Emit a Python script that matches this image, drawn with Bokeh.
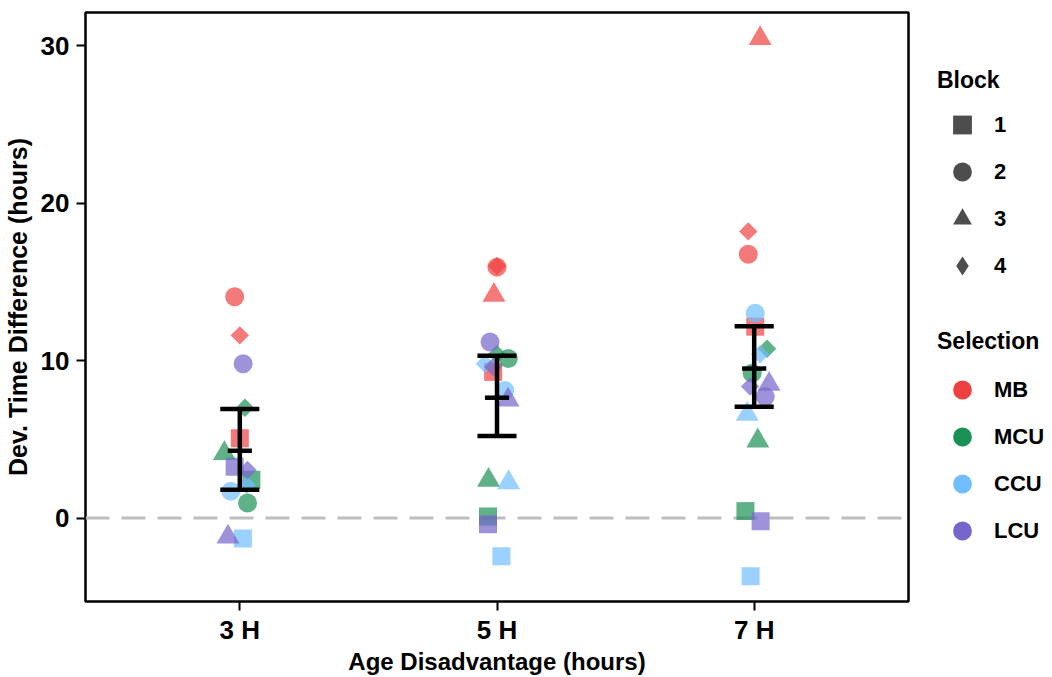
import math
from bokeh.plotting import figure
from bokeh.models import ColumnDataSource, Range1d, FixedTicker, Span, Legend, LegendItem, Spacer
from bokeh.layouts import row, column
from bokeh.embed import file_html
from bokeh.resources import INLINE

# ---------------- data ----------------
ages = ["3 H", "5 H", "7 H"]
selections = ["MB", "MCU", "CCU", "LCU"]
blocks = ["1", "2", "3", "4"]

# 3 H (points visible in the picture)
age3_sel = ["MB", "MB", "MB", "MCU", "MCU", "MCU", "MCU", "CCU", "CCU", "CCU", "LCU", "LCU", "LCU", "LCU"]
age3_block = ["1", "2", "4", "1", "2", "3", "4", "1", "2", "4", "1", "2", "3", "4"]
age3_value = [5.06, 14.05, 11.6, 2.43, 0.95, 4.1, 7.0, -1.3, 1.7, 2.1, 3.25, 9.8, -1.2, 3.05]
age3_jitter = [0.0, -0.02, 0.0, 0.045, 0.03, -0.06, 0.02, 0.012, -0.035, 0.027, -0.02, 0.013, -0.046, 0.03]

# 5 H
age5_sel = ["MB"] * 4 + ["MCU"] * 4 + ["CCU"] * 4 + ["LCU"] * 4
age5_block = blocks * 4
age5_value = [9.28, 15.93, 14.15, 16.0, 0.1, 10.13, 2.4, 10.4, -2.43, 8.1, 2.25, 9.8, -0.4, 11.18, 7.5, 9.6]
age5_jitter = [-0.015, 0.0, -0.012, 0.0, -0.035, 0.044, -0.033, 0.0, 0.017, 0.03, 0.045, -0.047, -0.035, -0.027, 0.043, -0.015]

# 7 H
age7_sel = ["MB"] * 4 + ["MCU"] * 4 + ["CCU"] * 4 + ["LCU"] * 4
age7_block = blocks * 4
age7_value = [12.15, 16.75, 30.45, 18.2, 0.44, 9.2, 4.9, 10.75, -3.7, 13.0, 6.6, 10.4, -0.2, 7.7, 8.5, 8.35]
age7_jitter = [0.004, -0.023, 0.023, -0.023, -0.034, -0.008, 0.014, 0.05, -0.014, 0.004, -0.027, 0.023, 0.025, 0.043, 0.058, -0.016]

# summary (mean with interval) per age
bar_mean = [4.28, 7.64, 9.49]
bar_low = [1.79, 5.21, 7.07]
bar_high = [6.92, 10.31, 12.17]

y_ticks = [0, 10, 20, 30]

# ---------------- styles ----------------
sel_color = {"MB": "#EF4040", "MCU": "#1B9156", "CCU": "#70BEFF", "LCU": "#7565CC"}
block_marker = {"1": "square", "2": "circle", "3": "triangle", "4": "square"}
block_angle = {"1": 0.0, "2": 0.0, "3": 0.0, "4": math.pi / 4}
block_size = {"1": 18, "2": 19, "3": 23, "4": 13}
legend_marker = {"1": "square", "2": "circle", "3": "triangle", "4": "diamond"}
FONT = "Liberation Sans"

# ---------------- build point table ----------------
xs, ys, cols, mks, szs, angs = [], [], [], [], [], []
for age, sels, blks, vals, jits in [
    ("3 H", age3_sel, age3_block, age3_value, age3_jitter),
    ("5 H", age5_sel, age5_block, age5_value, age5_jitter),
    ("7 H", age7_sel, age7_block, age7_value, age7_jitter),
]:
    base = ages.index(age) + 1
    for s, b, v, j in zip(sels, blks, vals, jits):
        xs.append(base + j)
        ys.append(v)
        cols.append(sel_color[s])
        mks.append(block_marker[b])
        szs.append(block_size[b])
        angs.append(block_angle[b])

src = ColumnDataSource(dict(x=xs, y=ys, color=cols, marker=mks, size=szs, angle=angs))

# ---------------- main figure ----------------
MAIN_W, H = 910, 677
LEG_W = 1052 - MAIN_W

p = figure(width=MAIN_W, height=H,
           x_range=Range1d(0.4, 3.6), y_range=Range1d(-5.3, 32.1),
           output_backend="svg", toolbar_location=None,
           min_border_left=85, min_border_right=2, min_border_top=12, min_border_bottom=74)
p.xgrid.visible = False
p.ygrid.visible = False
p.background_fill_color = "white"
p.border_fill_color = "white"
p.outline_line_color = "black"
p.outline_line_width = 2.5
p.outline_line_alpha = 1.0

p.add_layout(Span(location=0, dimension="width", line_color="#BEBEBE", line_width=3,
                  line_dash="24 12", level="underlay"))

p.scatter(x="x", y="y", source=src, marker="marker", size="size", angle="angle",
          fill_color="color", fill_alpha=0.7, line_color=None)

bx = [ages.index(a) + 1 for a in ages]
cap_half = 0.076
mean_half = 0.047
p.segment(x0=bx, y0=bar_low, x1=bx, y1=bar_high, line_color="black", line_width=4.5)
p.segment(x0=[x - cap_half for x in bx], y0=bar_high, x1=[x + cap_half for x in bx], y1=bar_high,
          line_color="black", line_width=4.5)
p.segment(x0=[x - cap_half for x in bx], y0=bar_low, x1=[x + cap_half for x in bx], y1=bar_low,
          line_color="black", line_width=4.5)
p.segment(x0=[x - mean_half for x in bx], y0=bar_mean, x1=[x + mean_half for x in bx], y1=bar_mean,
          line_color="black", line_width=4.5)

p.xaxis.ticker = FixedTicker(ticks=bx)
p.xaxis.major_label_overrides = {i + 1: a for i, a in enumerate(ages)}
p.yaxis.ticker = FixedTicker(ticks=y_ticks)
p.xaxis.axis_label = "Age Disadvantage (hours)"
p.yaxis.axis_label = "Dev. Time Difference (hours)"

for ax in (p.xaxis[0], p.yaxis[0]):
    ax.axis_line_color = None
    ax.major_tick_line_color = "black"
    ax.major_tick_line_width = 2
    ax.major_tick_out = 9
    ax.major_tick_in = 0
    ax.minor_tick_out = 0
    ax.minor_tick_in = 0
    ax.major_label_text_font = FONT
    ax.major_label_text_font_style = "bold"
    ax.major_label_text_color = "black"
    ax.axis_label_text_font = FONT
    ax.axis_label_text_font_style = "bold"
    ax.axis_label_text_color = "black"

p.xaxis.major_label_text_font_size = "26px"
p.yaxis.major_label_text_font_size = "26px"
p.xaxis.axis_label_text_font_size = "24px"
p.yaxis.axis_label_text_font_size = "25px"
p.xaxis.major_label_standoff = 4
p.xaxis.axis_label_standoff = 0
p.yaxis.major_label_standoff = 7
p.yaxis.axis_label_standoff = 6


# ---------------- legends ----------------
def legend_panel(h):
    f = figure(width=LEG_W, height=h, x_range=Range1d(0, 1), y_range=Range1d(0, 1),
               x_axis_type=None, y_axis_type=None, output_backend="svg",
               toolbar_location=None, min_border=0)
    f.outline_line_color = None
    f.background_fill_color = "white"
    f.border_fill_color = "white"
    return f


def style_legend(leg, standoff):
    leg.location = "top_left"
    leg.margin = 27
    leg.padding = 0
    leg.spacing = 0
    leg.glyph_width = 50
    leg.glyph_height = 47
    leg.label_standoff = 7
    leg.border_line_color = None
    leg.background_fill_alpha = 0
    leg.title_text_font = FONT
    leg.title_text_font_style = "bold"
    leg.title_text_font_size = "23px"
    leg.title_text_color = "black"
    leg.title_standoff = standoff
    leg.label_text_font = FONT
    leg.label_text_font_style = "bold"
    leg.label_text_font_size = "22px"
    leg.label_text_color = "black"


# legend key renderers sit outside the visible range; only their swatches show
fb = legend_panel(261)
items_b = []
for b in blocks:
    r = fb.scatter(x=[0.5], y=[-10], marker=legend_marker[b], size=10,
                   fill_color="#4D4D4D", line_color=None)
    items_b.append(LegendItem(label=b, renderers=[r]))
leg_b = Legend(items=items_b, title="Block")
style_legend(leg_b, 7)
fb.add_layout(leg_b)

fs = legend_panel(H - 40 - 261)
items_s = []
for s in selections:
    r = fs.scatter(x=[0.5], y=[-10], marker="circle", size=10,
                   fill_color=sel_color[s], line_color=None)
    items_s.append(LegendItem(label=s, renderers=[r]))
leg_s = Legend(items=items_s, title="Selection")
style_legend(leg_s, 11)
fs.add_layout(leg_s)

layout = row(p, column(Spacer(width=LEG_W, height=40), fb, fs))

open("out.html", "w").write(file_html(layout, INLINE))
